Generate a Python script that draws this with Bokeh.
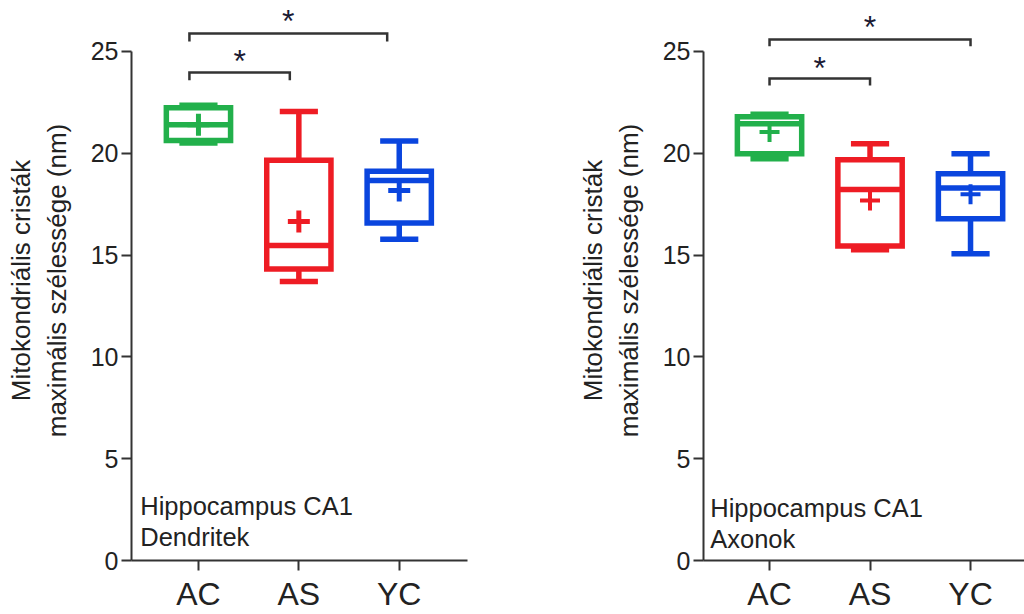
from bokeh.plotting import figure
from bokeh.layouts import row
from bokeh.models import Range1d, FixedTicker, Label, ColumnDataSource
from bokeh.core.properties import value
from bokeh.embed import file_html
from bokeh.resources import INLINE

# ---------------- data ----------------
categories = ["AC", "AS", "YC"]
colors = ["#22b04b", "#ee1c24", "#0a45de"]
y_ticks = [0, 5, 10, 15, 20, 25]
y_title = "Mitokondriális cristák\nmaximális szélessége (nm)"

# Dendritek (left panel)
d_whisk_low = [20.5, 13.7, 15.77]
d_q1 = [20.63, 14.31, 16.57]
d_median = [21.4, 15.47, 18.66]
d_q3 = [22.23, 19.65, 19.12]
d_whisk_high = [22.35, 22.05, 20.6]
d_mean = [21.4, 16.65, 18.17]
d_note = ["Hippocampus CA1", "Dendritek"]

# Axonok (right panel)
a_whisk_low = [19.73, 15.26, 15.06]
a_q1 = [19.97, 15.44, 16.78]
a_median = [21.45, 18.22, 18.29]
a_q3 = [21.79, 19.68, 18.99]
a_whisk_high = [21.92, 20.46, 19.97]
a_mean = [21.04, 17.68, 17.98]
a_note = ["Hippocampus CA1", "Axonok"]

# significance brackets: (from group, to group, label)
sig_pairs = [(0, 1, "*"), (0, 2, "*")]

FONT = "Liberation Sans"
TXT = "#222222"
AX = "#333333"


def make_panel(width, border_right, x_start, x_end, stats, note, note_xy,
               br_levels, br_drop, br_shift, star_levels, plus_size, plus_w):
    wl, q1, med, q3, wh, mean = stats
    p = figure(width=width, height=614, output_backend="svg",
               toolbar_location=None,
               x_range=Range1d(x_start, x_end), y_range=Range1d(0, 27.5),
               min_border_left=131, min_border_right=border_right,
               min_border_top=0, min_border_bottom=0)
    p.outline_line_color = None
    p.grid.visible = False
    p.background_fill_color = "white"

    xs = [i + 1 for i in range(len(categories))]
    bw = 0.64
    cw = 0.38
    src = ColumnDataSource(dict(
        x=xs, q1=q1, q3=q3, med=med, wl=wl, wh=wh, mean=mean, color=colors,
        bx0=[x - bw / 2 for x in xs], bx1=[x + bw / 2 for x in xs],
        cx0=[x - cw / 2 for x in xs], cx1=[x + cw / 2 for x in xs],
    ))
    lw = 5.5
    # whiskers
    p.segment(x0="x", y0="wl", x1="x", y1="q1", source=src, line_color="color", line_width=lw)
    p.segment(x0="x", y0="q3", x1="x", y1="wh", source=src, line_color="color", line_width=lw)
    p.segment(x0="cx0", y0="wl", x1="cx1", y1="wl", source=src, line_color="color", line_width=lw)
    p.segment(x0="cx0", y0="wh", x1="cx1", y1="wh", source=src, line_color="color", line_width=lw)
    # boxes
    p.vbar(x="x", width=bw, bottom="q1", top="q3", source=src, fill_color="white",
           line_color="color", line_width=lw, line_join="miter")
    p.segment(x0="bx0", y0="med", x1="bx1", y1="med", source=src, line_color="color", line_width=lw)
    # mean
    p.scatter(x="x", y="mean", source=src, marker="cross", size=plus_size,
              line_color="color", line_width=plus_w)

    # significance brackets
    for (i, j, s), lev, sl in zip(sig_pairs, br_levels, star_levels):
        xa = xs[i] + br_shift[i]
        xb = xs[j] + br_shift[j]
        p.line(x=[xa, xa, xb, xb], y=[lev - br_drop, lev, lev, lev - br_drop],
               line_color=AX, line_width=2.5, line_join="miter")
        p.text(x=[(xa + xb) / 2], y=[sl], text=[s], text_font=value(FONT),
               text_font_size="32px", text_align="center", text_baseline="alphabetic",
               text_color="#1a1a33")

    # note text
    for k, t in enumerate(note):
        p.add_layout(Label(x=note_xy[0], y=note_xy[1][k], text=t, text_font=FONT,
                           text_font_size="25.5px", text_color=TXT,
                           text_baseline="alphabetic", text_align="left"))

    # axes
    p.yaxis.ticker = FixedTicker(ticks=y_ticks)
    p.yaxis.bounds = (0, 25)
    p.xaxis.ticker = FixedTicker(ticks=xs)
    p.xaxis.major_label_overrides = {x: c for x, c in zip(xs, categories)}
    for ax in (p.xaxis[0], p.yaxis[0]):
        ax.axis_line_color = AX
        ax.axis_line_width = 2
        ax.major_tick_line_color = AX
        ax.major_tick_line_width = 2
        ax.major_tick_in = 0
        ax.major_tick_out = 10
        ax.minor_tick_line_color = None
        ax.major_label_text_font = FONT
        ax.major_label_text_color = TXT
    p.yaxis.major_label_text_font_size = "25px"
    p.yaxis.major_label_standoff = 3
    p.yaxis.axis_label = y_title
    p.yaxis.axis_label_text_font = FONT
    p.yaxis.axis_label_text_font_size = "26px"
    p.yaxis.axis_label_text_font_style = "normal"
    p.yaxis.axis_label_text_color = TXT
    p.yaxis.axis_label_standoff = 16
    p.xaxis.major_label_text_font_size = "32px"
    p.xaxis.major_label_standoff = 5
    return p


p1 = make_panel(572, 105, 0.333, 3.68,
                (d_whisk_low, d_q1, d_median, d_q3, d_whisk_high, d_mean),
                d_note, (0.42, [2.66, 1.14]),
                [23.97, 25.88], 0.39, [-0.09, -0.09, -0.12], [24.55, 26.5], 22, 5)
p2 = make_panel(452, 0, 0.343, 3.537,
                (a_whisk_low, a_q1, a_median, a_q3, a_whisk_high, a_mean),
                a_note, (0.41, [2.56, 1.04]),
                [23.67, 25.59], 0.34, [0.0, 0.0, 0.0], [24.2, 26.2], 20, 4)

layout = row(p1, p2)
open("out.html", "w").write(file_html(layout, INLINE))
